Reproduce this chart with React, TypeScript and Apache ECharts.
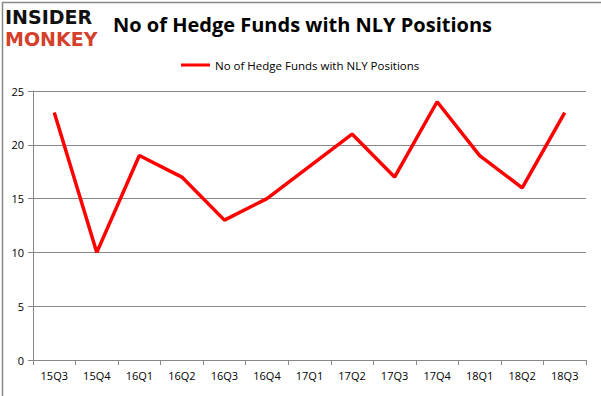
import React, { useEffect, useRef } from "react";
import * as echarts from "echarts";

const categories = ["15Q3", "15Q4", "16Q1", "16Q2", "16Q3", "16Q4", "17Q1", "17Q2", "17Q3", "17Q4", "18Q1", "18Q2", "18Q3"];
const hedgeFunds = [23, 10, 19, 17, 13, 15, 18, 21, 17, 24, 19, 16, 23];
const seriesName = "No of Hedge Funds with NLY Positions";
const titleText = "No of Hedge Funds with NLY Positions";

export default function App() {
  const ref = useRef<HTMLDivElement>(null);
  useEffect(() => {
    if (!ref.current) return;
    const chart = echarts.init(ref.current, null, { renderer: "svg" });
    const font = "'Open Sans', 'Noto Sans', sans-serif";
    chart.setOption({
      animation: false,
      backgroundColor: "#ffffff",
      textStyle: { fontFamily: font },
      title: {
        text: titleText,
        left: 108,
        top: 9,
        textStyle: { fontSize: 20, fontWeight: "bold", color: "#000", fontFamily: font },
      },
      legend: {
        data: [seriesName],
        top: 54,
        left: 176,
        itemWidth: 29,
        itemHeight: 3,
        itemGap: 4,
        icon: "rect",
        textStyle: { fontSize: 11.5, color: "#000", fontFamily: font },
      },
      grid: { left: 33, right: 15, top: 91, bottom: 36 },
      xAxis: {
        type: "category",
        data: categories,
        boundaryGap: true,
        axisLine: { lineStyle: { color: "#888", width: 1 } },
        axisTick: { show: true, alignWithLabel: false, length: 5, lineStyle: { color: "#888" } },
        axisLabel: { color: "#000", fontSize: 11, margin: 10, fontFamily: font },
      },
      yAxis: {
        type: "value",
        min: 0,
        max: 25,
        interval: 5,
        axisLine: { show: true, lineStyle: { color: "#888", width: 1 } },
        axisTick: { show: true, length: 5, lineStyle: { color: "#888" } },
        axisLabel: { color: "#000", fontSize: 11, margin: 9, fontFamily: font },
        splitLine: { lineStyle: { color: "#888", width: 1 } },
      },
      series: [
        {
          name: seriesName,
          type: "line",
          data: hedgeFunds,
          symbol: "none",
          lineStyle: { color: "#ff0000", width: 3.5 },
          itemStyle: { color: "#ff0000" },
        },
      ],
      graphic: [
        {
          type: "rect",
          left: 0,
          top: 0,
          shape: { width: 600, height: 395 },
          style: { fill: "none", stroke: "#888", lineWidth: 1.5 },
          z: 100,
        },
        {
          type: "text",
          left: 5,
          top: 7,
          style: {
            text: "INSIDER",
            fill: "#111",
            font: "900 19px 'DejaVu Sans', sans-serif",
          },
        },
        {
          type: "text",
          left: 5,
          top: 29,
          style: {
            text: "MONKEY",
            fill: "#d4402b",
            font: "900 19px 'DejaVu Sans', sans-serif",
          },
        },
      ],
    });
    return () => chart.dispose();
  }, []);
  return (
    <div
      ref={ref}
      style={{ position: "fixed", left: 0, top: 0, width: 601, height: 396 }}
    />
  );
}
